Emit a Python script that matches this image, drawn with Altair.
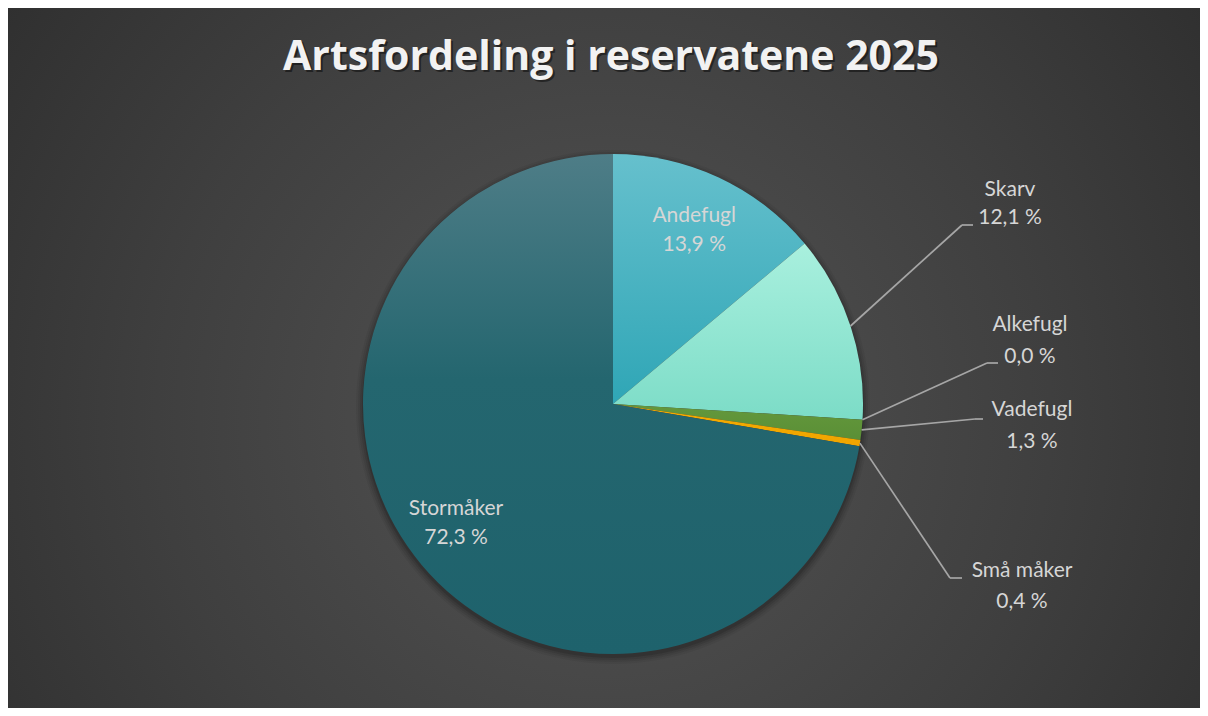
import math
import altair as alt
import pandas as pd

# ---- data ----
categories = ["Andefugl", "Skarv", "Alkefugl", "Vadefugl", "Små måker", "Stormåker"]
shares = [13.9, 12.1, 0.0, 1.3, 0.4, 72.3]
order = [1, 2, 3, 4, 5, 6]
title_text = "Artsfordeling i reservatene 2025"

# ---- label layout (annotation anchors, chart pixels) for labels outside the pie ----
out_labels = ["Skarv", "Alkefugl", "Vadefugl", "Små måker"]
label_x = [1002, 1022, 1024, 1014]
name_y = [182, 317, 402, 563]
pct_y = [210, 349, 434, 594]
elbow_x = [954, 979, 967, 942]
elbow_y = [217, 355, 411, 570]
end_x = [965, 990, 975, 954]

W, H = 1192, 700
CX, CY, R = 605, 396, 250

df = pd.DataFrame({"category": categories, "share": shares, "order": order})
layout = pd.DataFrame({
    "category": out_labels, "lx": label_x, "ny": name_y, "py": pct_y,
    "ex": elbow_x, "ey": elbow_y, "tx": end_x,
})

theta_scale = alt.Scale(domain=[0, 100], range=[0, 2 * math.pi])


def lin(top, bottom, mid=None, midoff=0.4):
    stops = [alt.GradientStop(color=top, offset=0)]
    if mid:
        stops.append(alt.GradientStop(color=mid, offset=midoff))
    stops.append(alt.GradientStop(color=bottom, offset=1))
    return alt.LinearGradient(gradient="linear", stops=stops, x1=0, y1=0, x2=0, y2=1)


fills = {
    "Andefugl": lin("#66c0cd", "#2fa6b6"),
    "Skarv": lin("#a9f0de", "#7cdcc7"),
    "Alkefugl": lin("#3d7f9a", "#3d7f9a"),
    "Vadefugl": lin("#64983c", "#5a8f36"),
    "Små måker": lin("#f5ab00", "#f0a500"),
    "Stormåker": lin("#4e7d87", "#1e626c", "#24666f", 0.45),
}

base = alt.Chart(df).transform_window(
    cum="sum(share)", sort=[alt.SortField("order")], frame=[None, 0]
).transform_calculate(
    start="datum.cum - datum.share",
    mid="datum.cum - datum.share / 2",
    pct="replace(format(datum.share, '.1f'), '.', ',') + ' %'",
    ang="(datum.cum - datum.share / 2) / 100 * 2 * PI",
)

# background with radial gradient
bg = alt.Chart(alt.Data(values=[{}])).mark_rect(
    fill=alt.RadialGradient(
        gradient="radial", x1=0.5, y1=0.55, r1=0.0, x2=0.5, y2=0.55, r2=0.75,
        stops=[alt.GradientStop(color="#545454", offset=0),
               alt.GradientStop(color="#3f3f3f", offset=0.5),
               alt.GradientStop(color="#272727", offset=1)],
    )
).encode(x=alt.value(0), x2=alt.value(W), y=alt.value(0), y2=alt.value(H))

# soft shadow under the pie
shadow_layers = []
for rr, op in [(257, 0.05), (255, 0.07), (253, 0.09), (251, 0.12)]:
    shadow_layers.append(
        base.transform_filter(alt.datum.order == 1).mark_arc(
            radius=rr, fill="#000000", opacity=op, theta=0, theta2=2 * math.pi
        ).encode(x=alt.value(CX), y=alt.value(CY + 3))
    )

# slices
slice_layers = []
for cat in categories:
    slice_layers.append(
        base.transform_filter(alt.datum.category == cat).mark_arc(
            radius=R, fill=fills[cat]
        ).encode(
            theta=alt.Theta("start:Q", scale=theta_scale),
            theta2="cum:Q",
            x=alt.value(CX), y=alt.value(CY),
        )
    )

label_font = "Lato"
label_color = "#d6d6d6"
LFS = 21

# inner labels
inner_layers = []
for cat, rad, toff in [("Andefugl", 192, 0.0), ("Stormåker", 197, 0.052)]:
    sub = base.transform_filter(alt.datum.category == cat)
    for field, dy in [("category", -14), ("pct", 15)]:
        inner_layers.append(
            sub.mark_text(
                radius=rad, thetaOffset=toff, dy=dy, font=label_font,
                fontSize=LFS, color=label_color,
            ).encode(theta=alt.Theta("mid:Q", scale=theta_scale),
                     text=f"{field}:N", x=alt.value(CX), y=alt.value(CY))
        )

# outer labels with leader lines
outer = base.transform_lookup(
    lookup="category",
    from_=alt.LookupData(layout, "category", ["lx", "ny", "py", "ex", "ey", "tx"]),
).transform_filter("isValid(datum.lx)").transform_calculate(
    sx=f"{CX} + {R} * sin(datum.ang)",
    sy=f"{CY} - {R} * cos(datum.ang)",
)
leader1 = outer.mark_rule(color="#a6a6a6", strokeWidth=1.7).encode(
    x=alt.X("sx:Q", scale=None, axis=None), y=alt.Y("sy:Q", scale=None, axis=None),
    x2="ex:Q", y2="ey:Q",
)
leader2 = outer.mark_rule(color="#a6a6a6", strokeWidth=1.7).encode(
    x=alt.X("ex:Q", scale=None, axis=None), y=alt.Y("ey:Q", scale=None, axis=None),
    x2="tx:Q",
)
outer_name = outer.mark_text(font=label_font, fontSize=LFS, color=label_color).encode(
    x=alt.X("lx:Q", scale=None, axis=None), y=alt.Y("ny:Q", scale=None, axis=None),
    text="category:N",
)
outer_pct = outer.mark_text(font=label_font, fontSize=LFS, color=label_color).encode(
    x=alt.X("lx:Q", scale=None, axis=None), y=alt.Y("py:Q", scale=None, axis=None),
    text="pct:N",
)

# title with shadow
TFONT, TFS = "Open Sans", 41
title_data = alt.Data(values=[{"t": title_text}])
title_shadow = alt.Chart(title_data).mark_text(
    font=TFONT, fontWeight="bold", fontSize=TFS, color="#000000", opacity=0.45,
    baseline="alphabetic",
).encode(text="t:N", x=alt.value(605), y=alt.value(64))
title = alt.Chart(title_data).mark_text(
    font=TFONT, fontWeight="bold", fontSize=TFS, color="#f2f2f2",
    baseline="alphabetic",
).encode(text="t:N", x=alt.value(603), y=alt.value(62))

chart = alt.layer(
    bg, *shadow_layers, *slice_layers, *inner_layers,
    leader1, leader2, outer_name, outer_pct, title_shadow, title,
).properties(
    width=W, height=H, padding=0,
    autosize=alt.AutoSizeParams(type="fit", contains="padding"),
).configure_view(stroke=None).configure(background="#2a2a2a")

chart.save("out.html", embed_options={"renderer": "svg", "actions": False})
